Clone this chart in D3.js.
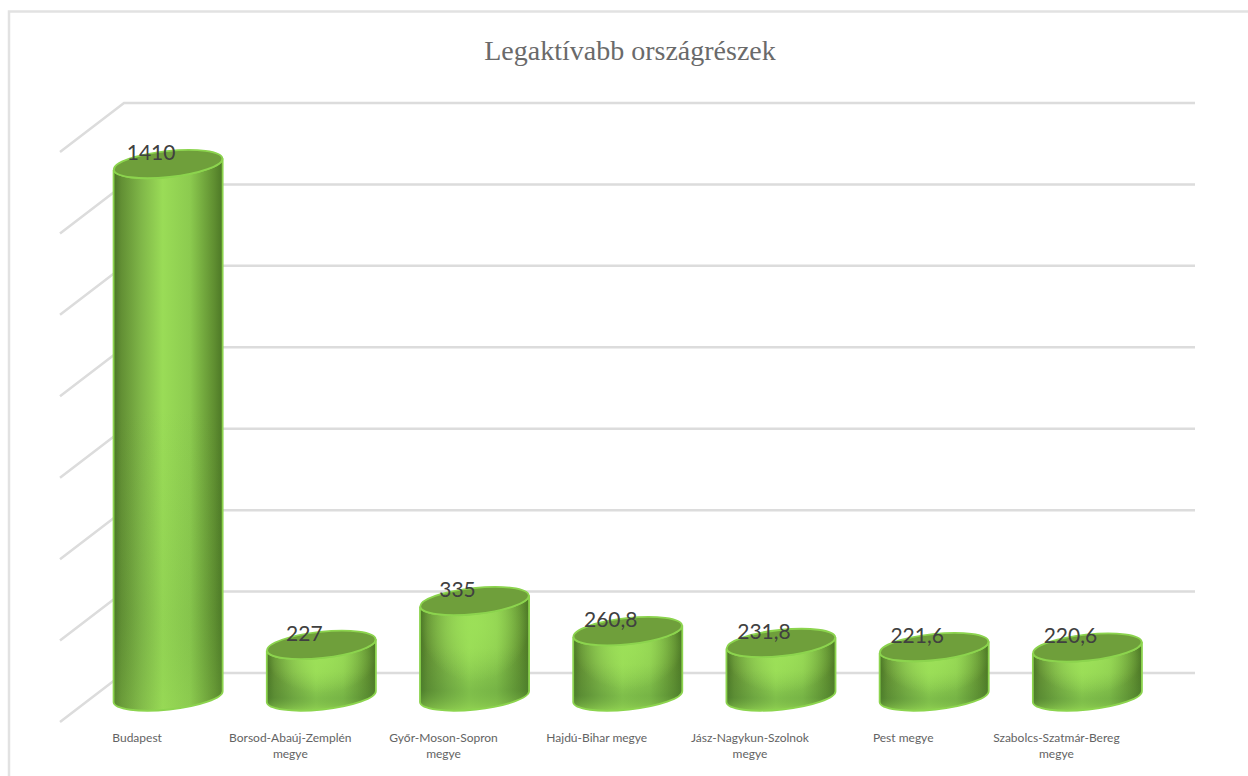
<!DOCTYPE html>
<html>
<head>
<meta charset="utf-8">
<script src="https://cdn.jsdelivr.net/npm/d3@7"></script>
<style>
    html, body { margin: 0; padding: 0; background: #fff; overflow: hidden; }
    svg { display: block; }
</style>
</head>
<body>
<div id="chart"></div>
<script>
const chartTitle = "Legaktívabb országrészek";
const categories = [
    "Budapest",
    "Borsod-Abaúj-Zemplén megye",
    "Győr-Moson-Sopron megye",
    "Hajdú-Bihar megye",
    "Jász-Nagykun-Szolnok megye",
    "Pest megye",
    "Szabolcs-Szatmár-Bereg megye"
];
const values = [1410, 227, 335, 260.8, 231.8, 221.6, 220.6];
const gridValues = [100, 300, 500, 700, 900, 1100, 1300, 1500];

const width = 1248;
const height = 776;

// 3D floor depth: the front edge of the gridlines sits this far from the back wall
const depth = { dx: -64, dy: 49 };

const svg = d3.select("#chart").append("svg")
    .attr("width", width)
    .attr("height", height);

// Scales
const x = d3.scaleBand()
    .domain(categories)
    .range([91.5, 1164])
    .paddingInner(0.288)
    .paddingOuter(0.144);

// Back wall of the box
const yBack = d3.scaleLinear().domain([100, 1500]).range([673, 103]);
// Plane running through the middle of the cylinders
const yMid = d3.scaleLinear().domain([100, 1500]).range([696.5, 127.5]);

const formatValue = d3.formatLocale({
    decimal: ",", thousands: " ", grouping: [3], currency: ["", ""]
}).format("~f");

// Gradients
const defs = svg.append("defs");

const side = defs.append("linearGradient").attr("id", "side");
[[0, "#4a7526"], [0.07, "#628f34"], [0.25, "#7fb648"], [0.45, "#9adc57"],
 [0.7, "#8ccb4f"], [0.92, "#608f31"], [1, "#4c7726"]].forEach(s => {
    side.append("stop").attr("offset", s[0]).attr("stop-color", s[1]);
});

// Darker, bluish band that lies across the lower part of each cylinder
const lower = defs.append("linearGradient")
    .attr("id", "lower")
    .attr("x1", 0).attr("x2", 0).attr("y1", 0).attr("y2", 1);
lower.append("stop").attr("offset", 0.45).attr("stop-color", "#4f8a34").attr("stop-opacity", 0);
lower.append("stop").attr("offset", 0.82).attr("stop-color", "#4f8a34").attr("stop-opacity", 0.35);
lower.append("stop").attr("offset", 1).attr("stop-color", "#8fd050").attr("stop-opacity", 0.7);

// Glow under the lid
const glow = defs.append("radialGradient")
    .attr("id", "glow")
    .attr("cx", 0.5).attr("cy", 0.25).attr("r", 0.5);
glow.append("stop").attr("offset", 0).attr("stop-color", "#9ce058").attr("stop-opacity", 0.95);
glow.append("stop").attr("offset", 1).attr("stop-color", "#9ce058").attr("stop-opacity", 0);

// Frame (only left and top edges fall inside the picture)
svg.append("path")
    .attr("d", `M9,${height} V11.5 H${width}`)
    .attr("fill", "none")
    .attr("stroke", "#e2e2e2")
    .attr("stroke-width", 2.5);

// Title
svg.append("text")
    .attr("x", 630)
    .attr("y", 60)
    .attr("text-anchor", "middle")
    .attr("font-family", "'Liberation Serif', serif")
    .attr("font-size", 28)
    .attr("fill", "#6a6a6a")
    .text(chartTitle);

// Gridlines
const grid = svg.append("g").attr("class", "grid");
grid.selectAll("path")
    .data(gridValues)
    .enter()
    .append("path")
    .attr("d", d => `M${124 + depth.dx},${yBack(d) + depth.dy} L124,${yBack(d)} H1195`)
    .attr("fill", "none")
    .attr("stroke", "#dcdcdc")
    .attr("stroke-width", 2.5);

// Cylinders
const rx = x.bandwidth() / 2;
const ry = 13;
const tilt = -6;
const tiltDy = rx * Math.sin(-tilt * Math.PI / 180);

function bodyPath(d) {
    const left = x(d.name);
    const right = left + x.bandwidth();
    const top = yMid(d.value);
    const base = yMid(100);
    return `M${left},${top + tiltDy} L${left},${base + tiltDy}
        A${rx},${ry} ${tilt} 0 0 ${right},${base - tiltDy}
        L${right},${top - tiltDy}
        A${rx},${ry} ${tilt} 0 1 ${left},${top + tiltDy} Z`;
}

const data = categories.map((name, i) => ({ name: name, value: values[i] }));

const bars = svg.append("g").attr("class", "bars")
    .selectAll("g")
    .data(data)
    .enter()
    .append("g");

bars.append("path")
    .attr("d", bodyPath)
    .attr("fill", "url(#side)");

// The tall bar only gets a faint trace of the lower band
bars.append("path")
    .attr("d", bodyPath)
    .attr("fill", "url(#lower)")
    .attr("opacity", d => d.value > 1000 ? 0.3 : 1);

bars.append("path")
    .attr("d", bodyPath)
    .attr("fill", "url(#glow)")
    .attr("opacity", d => d.value > 1000 ? 0 : 1);

bars.append("path")
    .attr("d", bodyPath)
    .attr("fill", "none")
    .attr("stroke", "#8cd44e")
    .attr("stroke-width", 1.8);

// Lid
bars.append("ellipse")
    .attr("rx", rx)
    .attr("ry", ry)
    .attr("transform", d => `translate(${x(d.name) + rx},${yMid(d.value)}) rotate(${tilt})`)
    .attr("fill", "#6f9f3b")
    .attr("stroke", "#8cd44e")
    .attr("stroke-width", 1.8);

// Data labels
bars.append("text")
    .attr("x", d => x(d.name) + rx - 17)
    .attr("y", d => yMid(d.value) - 4)
    .attr("text-anchor", "middle")
    .attr("font-family", "Lato, sans-serif")
    .attr("font-size", 21)
    .attr("fill", "#404040")
    .text(d => formatValue(d.value));

// Category axis, labels sit left of the cylinder centres like the original
const axis = svg.append("g")
    .attr("transform", "translate(-31,727)")
    .call(d3.axisBottom(x).tickSize(0).tickPadding(0));

axis.select(".domain").remove();

axis.selectAll("text")
    .attr("font-family", "Lato, sans-serif")
    .attr("font-size", 12)
    .attr("fill", "#636363")
    .each(function(d) {
        // Long names break before the last word
        const words = d.split(" ");
        const lines = d.length > 20
            ? [words.slice(0, -1).join(" "), words[words.length - 1]]
            : [d];
        const label = d3.select(this).text(null);
        lines.forEach((line, i) => {
            label.append("tspan")
                .attr("x", 0)
                .attr("y", 6 + i * 16)
                .attr("dy", "0.71em")
                .text(line);
        });
    });
</script>
</body>
</html>
